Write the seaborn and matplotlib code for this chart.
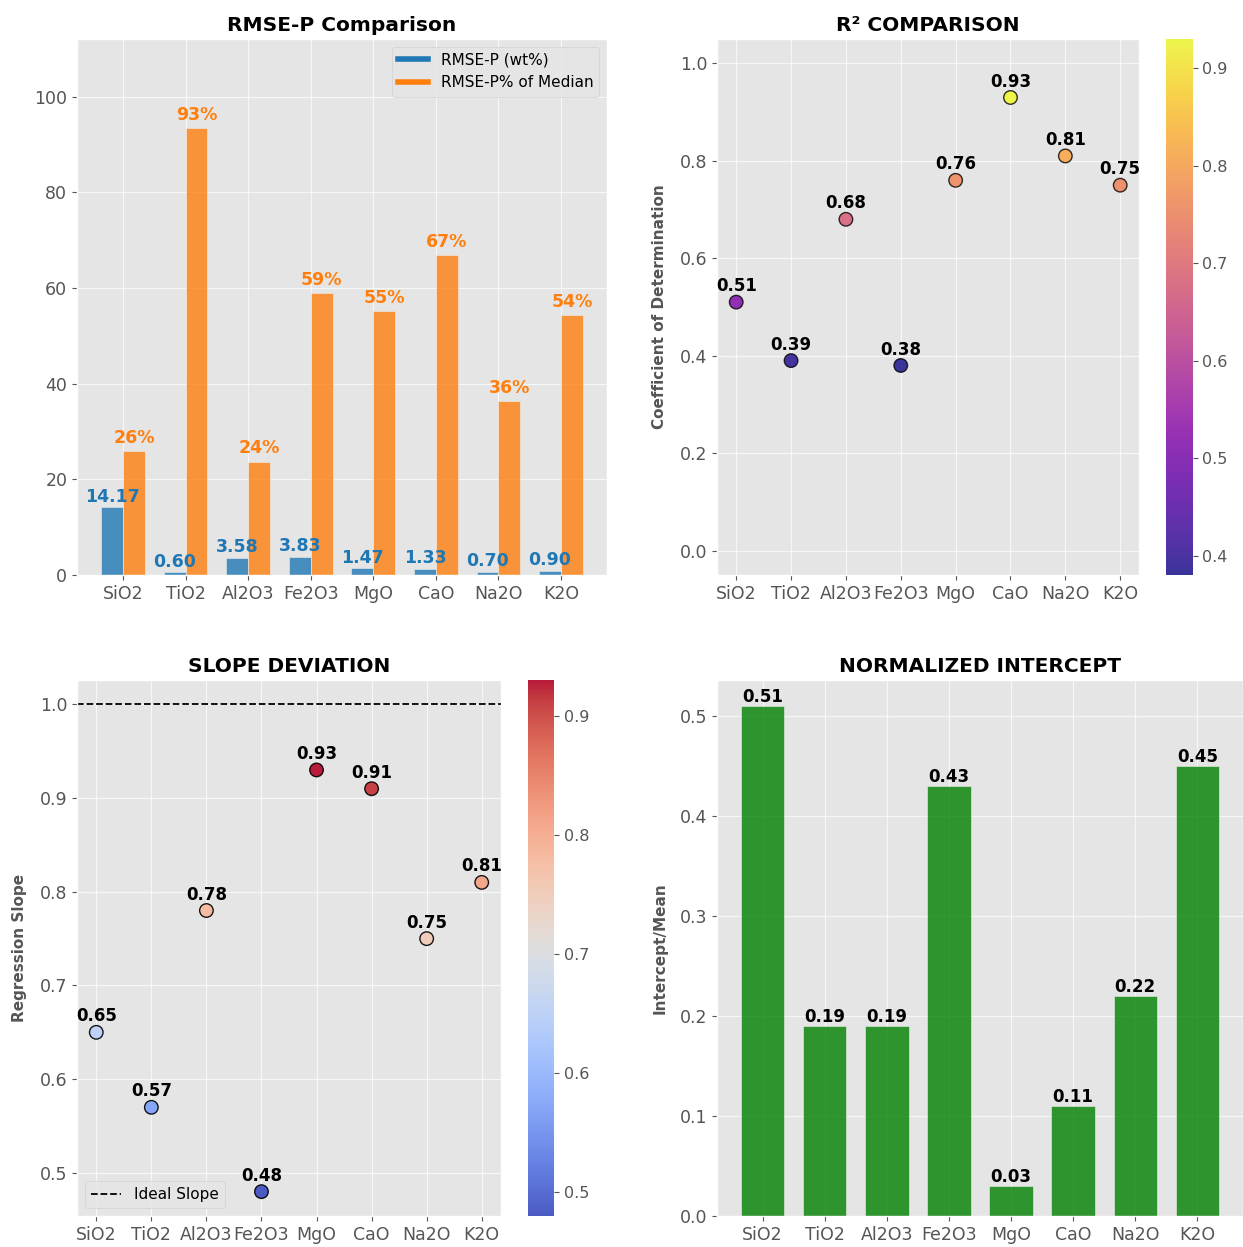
import pandas as pd
import matplotlib.pyplot as plt
import seaborn as sns
from matplotlib.lines import Line2D

plt.style.use('ggplot')
plt.rcParams['grid.alpha'] = 0.7

elements = ['SiO2', 'TiO2', 'Al2O3', 'Fe2O3', 'MgO', 'CaO', 'Na2O', 'K2O']
rmse_wt = [14.17, 0.60, 3.58, 3.83, 1.47, 1.33, 0.70, 0.90]
rmse_pct = [25.9, 93.4, 23.7, 58.9, 55.1, 66.9, 36.4, 54.4]
r2 = [0.51, 0.39, 0.68, 0.38, 0.76, 0.93, 0.81, 0.75]
slope = [0.65, 0.57, 0.78, 0.48, 0.93, 0.91, 0.75, 0.81]
intercept = [0.51, 0.19, 0.19, 0.43, 0.03, 0.11, 0.22, 0.45]

series = ['RMSE-P (wt%)', 'RMSE-P% of Median']
colors = {'RMSE-P (wt%)': '#1f77b4', 'RMSE-P% of Median': '#ff7f0e'}

W, H = 1243, 1247
fig = plt.figure(figsize=(W / 100, H / 100), dpi=100)
ax1 = fig.add_axes([77 / W, 672 / H, 530 / W, 536 / H])
ax2 = fig.add_axes([717 / W, 672 / H, 528 / W, 536 / H])
ax3 = fig.add_axes([77 / W, 31 / H, 530 / W, 536 / H])
ax4 = fig.add_axes([717 / W, 31 / H, 526 / W, 536 / H])

tick_size = 12.5
title_kw = dict(fontsize=14.5, fontweight='bold', color='black')

# RMSE-P grouped bars
rmse_df = pd.DataFrame({
    'element': elements * 2,
    'metric': [series[0]] * len(elements) + [series[1]] * len(elements),
    'value': rmse_wt + rmse_pct,
})
sns.barplot(data=rmse_df, x='element', y='value', hue='metric', hue_order=series,
            palette=colors, alpha=0.8, width=0.7, saturation=1, errorbar=None,
            edgecolor='#EEEEEE', linewidth=0.5, legend=False, ax=ax1)
ax1.bar_label(ax1.containers[0], labels=[f'{v:.2f}' for v in rmse_wt], padding=1,
              color=colors[series[0]], fontsize=12.5, fontweight='bold')
ax1.bar_label(ax1.containers[1], labels=[f'{v:.0f}%' for v in rmse_pct], padding=3,
              color=colors[series[1]], fontsize=12.5, fontweight='bold')
ax1.xaxis.grid(True)
ax1.set_xmargin(0.05)
ax1.autoscale(enable=True, axis='x')
ax1.set_ylim(0, max(rmse_pct) * 1.2)
ax1.set_xlabel('')
ax1.set_ylabel('')
ax1.set_title('RMSE-P Comparison', **title_kw)
handles = [Line2D([0], [0], color=colors[s], lw=4) for s in series]
ax1.legend(handles, series, loc='upper right', fontsize=11)

# R2 scatter
sns.scatterplot(x=elements, y=r2, hue=r2, palette='plasma', hue_norm=(min(r2), max(r2)),
                s=95, edgecolor='black', linewidth=1, alpha=0.8, legend=False, ax=ax2)
for i, v in enumerate(r2):
    ax2.annotate(f'{v:.2f}', (i, v), xytext=(0, 5), textcoords='offset points',
                 ha='center', va='bottom', fontsize=12, fontweight='bold')
ax2.set_ylim(-0.05, 1.05)
ax2.set_ylabel('Coefficient of Determination', fontsize=11, fontweight='bold', labelpad=9)
ax2.set_title('R² COMPARISON', **title_kw)
sm = plt.cm.ScalarMappable(norm=plt.Normalize(min(r2), max(r2)), cmap='plasma')
cb2 = fig.colorbar(sm, ax=ax2, alpha=0.8)
cb2.ax.tick_params(labelsize=11.5)
cb2.outline.set_visible(False)

# slope scatter
sns.scatterplot(x=elements, y=slope, hue=slope, palette='coolwarm',
                hue_norm=(min(slope), max(slope)), s=95, edgecolor='black',
                linewidth=1, alpha=0.9, legend=False, ax=ax3)
ax3.axhline(1.0, color='black', linestyle='--', linewidth=1.3, label='Ideal Slope')
for i, v in enumerate(slope):
    ax3.annotate(f'{v:.2f}', (i, v), xytext=(0, 5), textcoords='offset points',
                 ha='center', va='bottom', fontsize=12, fontweight='bold')
ax3.set_ylabel('Regression Slope', fontsize=11, fontweight='bold', labelpad=9)
ax3.set_title('SLOPE DEVIATION', **title_kw)
ax3.legend(loc='lower left', fontsize=11)
sm = plt.cm.ScalarMappable(norm=plt.Normalize(min(slope), max(slope)), cmap='coolwarm')
cb3 = fig.colorbar(sm, ax=ax3, alpha=0.9)
cb3.ax.tick_params(labelsize=11.5)
cb3.outline.set_visible(False)

# normalized intercept bars
sns.barplot(x=elements, y=intercept, color='green', alpha=0.8, width=0.7, saturation=1,
            errorbar=None, edgecolor='#EEEEEE', linewidth=0.5, ax=ax4)
ax4.bar_label(ax4.containers[0], labels=[f'{v:.2f}' for v in intercept],
              fontsize=12, fontweight='bold')
ax4.xaxis.grid(True)
ax4.set_xmargin(0.05)
ax4.autoscale(enable=True, axis='x')
ax4.set_ylim(0, max(intercept) * 1.05)
ax4.set_ylabel('Intercept/Mean', fontsize=11, fontweight='bold', labelpad=9)
ax4.set_title('NORMALIZED INTERCEPT', **title_kw)

for ax in (ax1, ax2, ax3, ax4):
    ax.tick_params(labelsize=tick_size)

fig.savefig('out.png', dpi=100)
